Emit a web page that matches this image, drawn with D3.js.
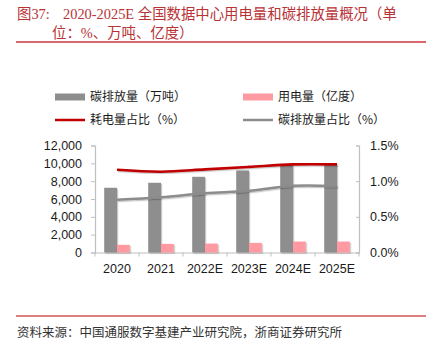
<!DOCTYPE html>
<html>
<head>
<meta charset="utf-8">
<script src="https://cdn.jsdelivr.net/npm/d3@7"></script>
<style>
  html, body { margin: 0; padding: 0; background: #fff; }
  svg { display: block; }
</style>
</head>
<body>
<div id="chart"></div>
<script>
// Data: national data-centre electricity use and carbon emissions, 2020-2025E
const categories = ["2020", "2021", "2022E", "2023E", "2024E", "2025E"];
const carbonEmission = [7260, 7820, 8490, 9200, 9800, 9850];     // 万吨
const powerUse = [860, 970, 1000, 1080, 1230, 1230];             // 亿度
const powerShare = [1.16, 1.133, 1.165, 1.2, 1.235, 1.235];      // %
const carbonShare = [0.74, 0.775, 0.83, 0.866, 0.935, 0.93];     // %
const leftTicks = [0, 2000, 4000, 6000, 8000, 10000, 12000];
const rightTicks = [0, 0.5, 1.0, 1.5];

const W = 436, H = 345;
const svg = d3.select("#chart").append("svg").attr("width", W).attr("height", H);

const latin = "'Liberation Sans', Arial, 'Noto Sans CJK SC', sans-serif";
const cjk = "'Noto Sans CJK SC', 'Liberation Sans', sans-serif";
const serif = "'Liberation Serif', 'Noto Sans CJK SC', serif";

// soft shadow used on bars and lines
const defs = svg.append("defs");
const f = defs.append("filter").attr("id", "shadow")
  .attr("x", "-20%").attr("y", "-20%").attr("width", "150%").attr("height", "150%");
f.append("feDropShadow").attr("dx", 1.2).attr("dy", 1.2).attr("stdDeviation", 0.7)
  .attr("flood-color", "#000").attr("flood-opacity", 0.22);

// ---- Title ----
const titleColor = "#b83236";
const title = svg.append("g").attr("font-family", serif).attr("fill", titleColor).attr("font-size", 14.4);
title.append("text").attr("x", 17).attr("y", 19).text("图37:");
title.append("text").attr("x", 63).attr("y", 19).text("2020-2025E 全国数据中心用电量和碳排放量概况（单");
title.append("text").attr("x", 52).attr("y", 38).text("位：%、万吨、亿度）");
svg.append("line").attr("x1", 16).attr("x2", 426).attr("y1", 42).attr("y2", 42)
  .attr("stroke", "#d9686c").attr("stroke-width", 2);

// ---- Scales ----
const x = d3.scaleBand().domain(categories).range([95, 359]).paddingInner(0).paddingOuter(0);
const xs = d3.scaleBand().domain(["carbon", "power"]).range([0, x.bandwidth()])
  .paddingInner(0).paddingOuter(0.72);
const yL = d3.scaleLinear().domain([0, 12000]).range([252.5, 145.5]);
const yR = d3.scaleLinear().domain([0, 1.5]).range([252.5, 145.5]);

const axisColor = "#bfbfbf";
const textColor = "#1a1a1a";

// ---- Axes ----
const gL = svg.append("g").attr("transform", "translate(95,0)")
  .call(d3.axisLeft(yL).tickValues(leftTicks).tickSize(4).tickPadding(9)
    .tickFormat(d3.format(",")));
const gR = svg.append("g").attr("transform", "translate(359,0)")
  .call(d3.axisRight(yR).tickValues(rightTicks).tickSize(-3).tickPadding(11)
    .tickFormat(d => d.toFixed(1) + "%"));
const gB = svg.append("g").attr("transform", "translate(0,252.5)")
  .call(d3.axisBottom(x).tickSize(0).tickPadding(12));
// category boundary ticks on the bottom axis
gB.selectAll(".bound").data(d3.range(categories.length + 1)).join("line")
  .attr("class", "bound")
  .attr("x1", i => 95 + i * x.step()).attr("x2", i => 95 + i * x.step())
  .attr("y1", 0).attr("y2", 4).attr("stroke", axisColor);

[gL, gR, gB].forEach(g => {
  g.selectAll(".domain").attr("stroke", axisColor).attr("stroke-width", 1.2);
  g.selectAll(".tick line").attr("stroke", axisColor);
  g.selectAll("text").attr("font-family", latin).attr("font-size", 12.5).attr("fill", textColor);
});

// ---- Bars ----
const barData = categories.map((c, i) => ({ c, carbon: carbonEmission[i], power: powerUse[i] }));
const plot = svg.append("g");
plot.selectAll(".carbon").data(barData).join("rect").attr("class", "carbon")
  .attr("x", d => x(d.c) + xs("carbon")).attr("width", xs.bandwidth())
  .attr("y", d => yL(d.carbon)).attr("height", d => yL(0) - yL(d.carbon))
  .attr("fill", "#8e8e8e").attr("filter", "url(#shadow)");
plot.selectAll(".power").data(barData).join("rect").attr("class", "power")
  .attr("x", d => x(d.c) + xs("power")).attr("width", xs.bandwidth())
  .attr("y", d => yL(d.power)).attr("height", d => yL(0) - yL(d.power))
  .attr("fill", "#ff9aa2").attr("filter", "url(#shadow)");

// ---- Lines ----
const cx = c => x(c) + x.bandwidth() / 2;
const line = d3.line().curve(d3.curveCatmullRom.alpha(0.5));
plot.append("path")
  .attr("d", line(categories.map((c, i) => [cx(c), yR(carbonShare[i])])))
  .attr("fill", "none").attr("stroke", "#8c8c8c").attr("stroke-width", 2.5)
  .attr("filter", "url(#shadow)");
plot.append("path")
  .attr("d", line(categories.map((c, i) => [cx(c), yR(powerShare[i])])))
  .attr("fill", "none").attr("stroke", "#c00000").attr("stroke-width", 2.6)
  .attr("filter", "url(#shadow)");

// ---- Legend ----
const legendItems = [
  { label: "碳排放量（万吨）", type: "bar", color: "#8e8e8e", x: 55, y: 97 },
  { label: "用电量（亿度）", type: "bar", color: "#ff9aa2", x: 243, y: 97 },
  { label: "耗电量占比（%）", type: "line", color: "#c00000", x: 55, y: 120 },
  { label: "碳排放量占比（%）", type: "line", color: "#8c8c8c", x: 243, y: 120 }
];
const lg = svg.append("g");
legendItems.forEach(it => {
  if (it.type === "bar") {
    lg.append("rect").attr("x", it.x).attr("y", it.y - 3.5).attr("width", 30).attr("height", 7)
      .attr("fill", it.color);
  } else {
    lg.append("line").attr("x1", it.x).attr("x2", it.x + 30).attr("y1", it.y).attr("y2", it.y)
      .attr("stroke", it.color).attr("stroke-width", 2.5);
  }
  lg.append("text").attr("x", it.x + 35).attr("y", it.y).attr("dy", "0.36em")
    .attr("font-family", cjk).attr("font-size", 12).attr("fill", textColor).text(it.label);
});

// ---- Source note ----
svg.append("line").attr("x1", 16).attr("x2", 426).attr("y1", 316).attr("y2", 316)
  .attr("stroke", "#c00000").attr("stroke-width", 1.2);
svg.append("text").attr("x", 17).attr("y", 337).attr("font-family", serif)
  .attr("font-size", 12.5).attr("fill", "#333")
  .text("资料来源：中国通服数字基建产业研究院，浙商证券研究所");
</script>
</body>
</html>
